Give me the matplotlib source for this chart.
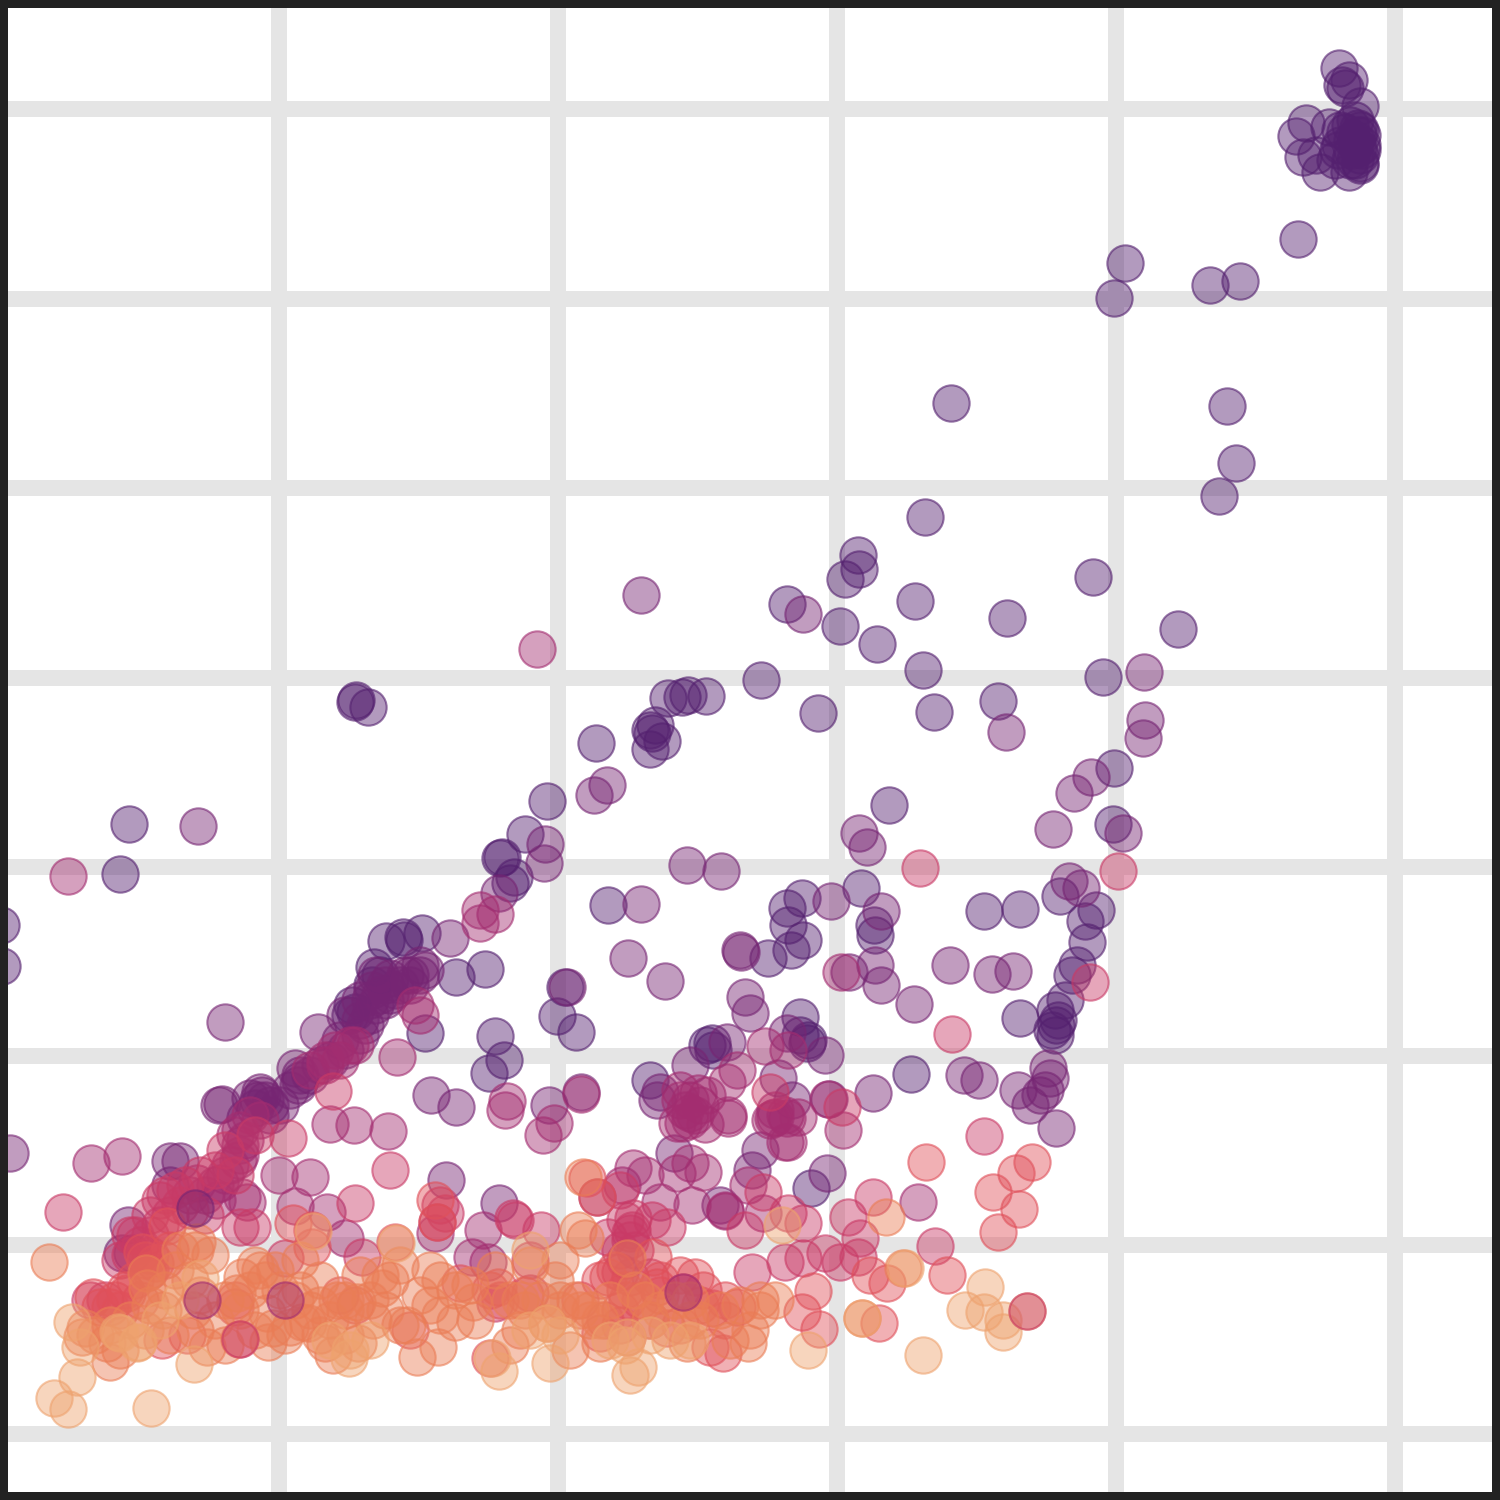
import matplotlib
matplotlib.use("Agg")
import matplotlib.pyplot as plt
import numpy as np

# values, one list per colour level, dark to light
x_ticks = [279, 558, 837, 1116, 1395]
y_ticks = [108.5, 298.5, 487.5, 677.5, 866.5, 1055.5, 1244.5, 1433.5]
level_colors = ["#54206f", "#762573", "#a32d70", "#c93a66", "#e0505a", "#ea7d56", "#eea26e"]

level0 = [(1339,68),(1349,80),(1342,85),(1360,106),(1306,123),(1296,136),(1329,127),(1350,125),(1360,130),(1358,135),
          (1362,150),(1356,140),(1360,155),(1358,148),(1355,160),(1345,132),(1340,145),(1303,157),(1320,172),(1349,172),
          (1360,163),(1352,150),(1362,145),(1335,160),(1316,155),(1298,239),(1240,281),(1210,285),(1125,263),(1114,298),
          (951,403),(1227,406),(1236,463),(1219,496),(925,517),(858,555),(859,569),(845,579),(1093,577),(787,604),
          (915,601),(1007,618),(840,626),(877,644),(1178,629),(923,670),(1103,677),(761,680),(818,713),(934,712),
          (998,701),(706,696),(668,698),(682,697),(688,695),(655,725),(652,733),(662,741),(650,749),(650,730),
          (596,743),(547,801),(525,834),(502,857),(500,858),(514,877),(510,883),(356,700),(355,702),(368,707),
          (129,824),(120,874),(1,925),(2,966),(608,905),(889,805),(1114,768),(1113,824),(861,888),(787,908),
          (802,898),(788,925),(803,940),(791,950),(768,958),(874,925),(875,935),(984,911),(1020,909),(1096,910),
          (1085,921),(1087,942),(1077,965),(1072,975),(1065,1000),(1055,1010),(1056,1025),(1055,1035),(1052,1030),(1058,1020),
          (1060,896),(1020,1018),(386,941),(403,937),(404,940),(422,933),(456,977),(485,969),(374,967),(352,1005),
          (355,1012),(350,1015),(425,1033),(495,1036),(504,1060),(489,1073),(557,1016),(576,1032),(565,987),(807,1043),
          (808,1040),(800,1017),(712,1043),(707,1045),(713,1050),(650,1080),(911,1074),(811,1188),(1358,128),(1352,140),
          (1350,160),(1360,165),(1355,120),(1340,130),(1338,150),(1362,135),(1345,88),(800,1035),(372,985),(380,975)]

level1 = [(803,614),(1144,672),(1006,732),(1145,720),(1143,738),(1091,777),(1074,793),(1053,829),(1123,833),(859,833),
          (867,847),(607,785),(594,795),(545,844),(544,863),(499,893),(198,826),(225,1022),(641,595),(641,904),
          (687,865),(721,871),(450,938),(376,975),(385,985),(372,990),(390,978),(405,975),(425,970),(420,975),
          (360,1020),(370,1000),(395,990),(410,985),(318,1032),(340,1040),(295,1068),(300,1075),(298,1085),(262,1095),
          (258,1100),(250,1098),(219,1105),(222,1104),(270,1105),(431,1095),(456,1107),(567,987),(549,1105),(581,1092),
          (628,958),(665,981),(740,950),(741,952),(831,901),(881,911),(875,965),(881,985),(849,972),(914,1004),
          (950,965),(992,974),(1013,971),(1069,881),(1081,888),(1048,1068),(1050,1078),(1045,1090),(1030,1105),(1018,1090),
          (1040,1095),(1056,1128),(964,1075),(979,1080),(873,1093),(829,1099),(745,997),(750,1013),(825,1055),(787,1033),
          (727,1042),(690,1065),(660,1092),(657,1100),(170,1161),(180,1161),(10,1153),(446,1180),(499,1203),(674,1153),
          (827,1173),(752,1170),(760,1150),(778,1078),(792,1100),(128,1225),(122,1253),(132,1253),(170,1185),(720,1205),
          (260,1092),(265,1100),(255,1108),(245,1118),(270,1115),(280,1105),(290,1090),(300,1080),(310,1075),(320,1065),
          (330,1060),(345,1050),(360,1035),(365,1025),(370,1015),(375,1005),(380,995),(390,995),(400,985),(410,975),
          (420,965),(385,1000),(360,1000),(345,1015)]

level2 = [(537,649),(68,876),(480,910),(495,914),(480,923),(415,1005),(420,1015),(397,1057),(355,1045),(325,1060),
          (310,1070),(250,1115),(260,1120),(240,1130),(235,1135),(245,1140),(240,1155),(330,1124),(354,1125),(388,1131),
          (279,1175),(507,1101),(505,1110),(554,1123),(543,1135),(581,1094),(841,972),(918,1202),(737,1070),
          (727,1082),(680,1100),(698,1093),(707,1095),(690,1113),(683,1123),(677,1123),(705,1124),(728,1115),(728,1118),
          (765,1046),(788,1050),(775,1117),(798,1117),(773,1118),(787,1118),(788,1142),(785,1142),(748,1185),(828,1099),
          (843,1130),(91,1163),(122,1156),(197,1183),(220,1183),(247,1202),(242,1197),(217,1200),(295,1206),(327,1212),
          (310,1177),(435,1233),(345,1238),(690,1163),(703,1172),(677,1173),(633,1168),(622,1185),(645,1175),(597,1197),
          (660,1202),(692,1205),(725,1210),(725,1211),(763,1213),(483,1230),(488,1262),(472,1257),(350,1045),(325,1065),
          (240,1145),(238,1160),(230,1165),(225,1175),(215,1185),(205,1195),(190,1195),(680,1090),(690,1100),(700,1105),
          (685,1110),(695,1115),(690,1120),(775,1110),(785,1115),(770,1120),(335,1050),(340,1060)]

level3 = [(920,868),(1118,871),(1090,982),(333,1091),(288,1138),(390,1170),(355,1203),(952,1034),(770,1092),(842,1107),
          (984,1136),(63,1212),(240,1227),(252,1227),(445,1213),(437,1222),(362,1257),(285,1258),(860,1238),(858,1257),
          (825,1253),(803,1258),(840,1262),(935,1246),(873,1197),(848,1217),(763,1192),(788,1213),(803,1223),(745,1230),
          (752,1272),(785,1262),(515,1220),(513,1218),(541,1230),(530,1260),(633,1218),(632,1230),(630,1233),(620,1190),
          (652,1220),(667,1227),(608,1237),(620,1272),(630,1277),(650,1277),(683,1292),(530,1293),(495,1303),(650,1320),
          (180,1205),(170,1215),(160,1225),(150,1235),(140,1245),(130,1255),(120,1260),(190,1210),(175,1190),(160,1200),
          (150,1215),(135,1235),(625,1220),(620,1250),(630,1240),(635,1250),(625,1260),(200,1175),(215,1170),(185,1185),
          (165,1195),(205,1215),(150,1255),(130,1235),(225,1150),(255,1135),(235,1175),(105,1300),(90,1300),(440,1205)]

level4 = [(926,1162),(1032,1162),(1016,1173),(993,1192),(1019,1209),(998,1232),(947,1275),(870,1275),(887,1283),(802,1312),
          (819,1329),(813,1291),(879,1323),(723,1353),(710,1347),(490,1358),(148,1272),(167,1226),(155,1263),(142,1252),
          (127,1293),(140,1300),(100,1307),(110,1307),(93,1297),(235,1307),(239,1339),(162,1340),(187,1335),(435,1200),
          (312,1230),(293,1223),(437,1222),(395,1242),(312,1247),(460,1283),(498,1287),(587,1178),(597,1197),(653,1257),
          (608,1277),(627,1300),(657,1287),(695,1277),(703,1290),(737,1307),(712,1308),(627,1337),(600,1333),(667,1328),
          (115,1300),(125,1290),(135,1280),(150,1270),(165,1260),(615,1270),(625,1290),(600,1280),(660,1280),(680,1275),
          (640,1300),(620,1310),(145,1260),(170,1250),(120,1310),(235,1300),(355,1305),(340,1295),(410,1330),(500,1300),
          (490,1290),(525,1295),(580,1300),(620,1325),(660,1295),(700,1305),(725,1320),(680,1325),(605,1320),(725,1300)]

level5 = [(886,1217),(49,1262),(107,1343),(110,1362),(85,1328),(82,1337),(197,1242),(210,1255),(146,1273),(147,1288),
          (163,1310),(193,1310),(207,1347),(268,1342),(290,1327),(308,1323),(325,1343),(333,1355),(358,1343),(373,1320),
          (407,1325),(417,1357),(438,1347),(455,1322),(473,1302),(430,1305),(382,1288),(357,1302),(337,1300),(302,1322),
          (273,1328),(267,1313),(260,1270),(242,1277),(237,1293),(583,1177),(578,1230),(585,1238),(560,1260),(580,1310),
          (600,1343),(570,1350),(547,1323),(650,1320),(687,1343),(748,1343),(750,1330),(862,1318),(903,1268),(627,1258),
          (345,1300),(390,1280),(300,1290),(320,1305),(520,1300),(560,1300),(590,1320),(690,1320),(180,1250),(195,1250),
          (175,1270),(190,1280),(165,1290),(150,1305),(130,1320),(110,1325),(95,1335),(120,1350),(145,1330),(170,1335),
          (195,1330),(215,1320),(225,1300),(240,1310),(250,1290),(265,1280),(280,1290),(295,1300),(310,1310),(330,1320),
          (345,1310),(370,1300),(385,1310),(400,1325),(420,1295),(440,1280),(455,1290),(475,1320),(510,1300),(525,1310),
          (540,1300),(560,1310),(575,1300),(590,1310),(610,1300),(635,1290),(645,1300),(660,1310),(675,1300),(690,1300),
          (700,1320),(720,1310),(740,1305),(760,1300),(775,1300),(255,1265),(275,1270),(300,1260),(320,1280),(360,1275),
          (380,1275),(400,1265),(430,1270),(470,1285),(495,1270),(530,1265),(555,1280),(345,1335),(320,1335),(285,1335),
          (255,1330),(225,1345),(200,1295),(440,1315),(520,1330),(510,1345),(600,1320),(730,1340),(760,1310)]

level6 = [(72,1322),(80,1347),(118,1332),(137,1343),(138,1342),(120,1333),(77,1377),(54,1398),(68,1409),(151,1408),
          (194,1364),(200,1278),(313,1231),(349,1358),(492,1358),(499,1371),(550,1363),(630,1375),(638,1367),(627,1337),
          (808,1350),(923,1355),(782,1225),(905,1268),(1003,1332),(985,1287),(965,1310),(984,1312),(1003,1320),(1027,1311),
          (547,1323),(530,1250),(396,1243),(862,1318),(330,1340),(350,1350),(370,1340),(530,1330),(560,1335),(610,1340),
          (625,1345),(650,1335),(670,1340),(690,1340),(160,1320),(180,1300)]

# a few dark or red ones sit on top of the pale ones
top_points = [(195,1208),(202,1300),(285,1300),(683,1292),(1027,1311),(240,1339)]
top_levels = [1, 2, 2, 2, 3, 3]

levels = [level0, level1, level2, level3, level4, level5, level6]

fig = plt.figure(figsize=(5, 5), dpi=300)
ax = fig.add_axes([0, 0, 1, 1])
ax.set_xlim(0, 1500)
ax.set_ylim(1500, 0)
ax.set_xticks(x_ticks)
ax.set_yticks(y_ticks)
ax.tick_params(length=0, labelbottom=False, labelleft=False)
ax.grid(True, color="#e5e5e5", linewidth=3.84)
ax.set_axisbelow(True)
for side in ax.spines.values():
    side.set_linewidth(3.84)
    side.set_color("#222222")


def draw(points, color):
    px, py = np.array(points).T
    ax.scatter(px, py, s=76, facecolor=matplotlib.colors.to_rgba(color, 0.45),
               edgecolor=matplotlib.colors.to_rgba(color, 0.6), linewidth=0.5)


for pts, col in zip(levels, level_colors):
    draw(pts, col)
for pt, lev in zip(top_points, top_levels):
    draw([pt], level_colors[lev])

fig.savefig("out.png", dpi=300)
